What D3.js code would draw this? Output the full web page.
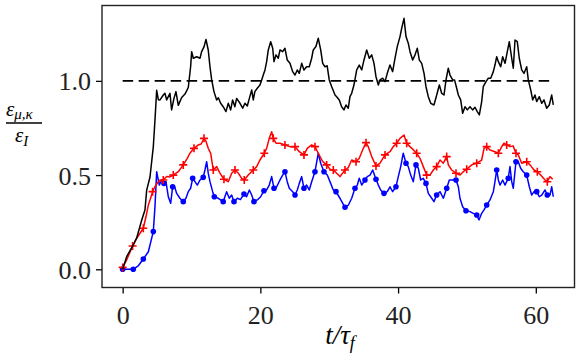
<!DOCTYPE html>
<html>
<head>
<meta charset="utf-8">
<script src="https://cdn.jsdelivr.net/npm/d3@7"></script>
<style>
  body { margin: 0; background: #fff; }
  text { font-family: "Liberation Serif", "DejaVu Serif", serif; }
</style>
</head>
<body>
<svg id="chart" width="581" height="363"></svg>
<script>
// eps_mu,kappa / eps_I against t / tau_f
var BLACK = [
  [0, 0], [0.58, 0.067], [1.54, 0.129], [2.03, 0.165], [2.76, 0.26], [3.24, 0.315],
  [3.49, 0.42], [3.97, 0.49], [4.45, 0.65], [4.69, 0.79], [4.94, 0.95], [5.18, 0.9],
  [5.43, 0.899], [5.9, 0.925], [6.14, 0.934], [6.39, 0.899], [6.87, 0.934], [7.11, 0.846],
  [7.45, 0.907], [7.74, 0.943], [8.08, 0.87], [8.57, 0.912], [9.05, 0.93], [9.53, 0.965],
  [9.87, 1.075], [10.02, 1.155], [10.26, 1.12], [10.75, 1.128], [11.23, 1.12], [11.47, 1.155],
  [11.81, 1.18], [12.1, 1.22], [12.43, 1.164], [12.68, 1.075], [12.93, 1.005], [13.26, 0.943],
  [13.65, 0.899], [13.9, 0.91], [14.23, 0.881], [14.6, 0.863], [15.0, 0.837], [15.34, 0.881],
  [15.69, 0.846], [15.97, 0.899], [16.3, 0.863], [16.55, 0.907], [17.04, 0.881], [17.43, 0.855],
  [17.76, 0.881], [18.1, 0.867], [18.4, 0.907], [18.74, 0.952], [18.97, 0.899], [19.2, 0.943],
  [19.55, 0.961], [19.94, 0.978], [20.19, 1.005], [20.42, 1.031], [20.67, 1.058], [20.91, 1.102],
  [21.15, 1.164], [21.5, 1.208], [21.79, 1.173], [21.98, 1.102], [22.27, 1.138], [22.6, 1.12],
  [22.85, 1.164], [23.24, 1.155], [23.57, 1.173], [23.9, 1.111], [24.3, 1.093], [24.69, 1.049],
  [25.03, 1.031], [25.36, 1.058], [25.65, 1.04], [26.0, 1.093], [26.33, 1.058], [26.72, 1.075],
  [27.1, 1.075], [27.45, 1.12], [27.68, 1.164], [28.07, 1.182], [28.41, 1.226], [28.76, 1.164],
  [29.05, 1.093], [29.38, 1.075], [29.7, 1.08], [30.0, 1.005], [30.36, 0.969], [30.84, 0.925],
  [31.08, 0.916], [31.46, 0.899], [31.8, 0.863], [32.14, 0.846], [32.43, 0.872], [32.77, 0.855],
  [33.01, 0.916], [33.26, 0.934], [33.59, 0.978], [33.99, 1.058], [34.36, 1.084], [34.72, 1.058],
  [35.05, 1.111], [35.44, 1.164], [35.82, 1.12], [36.17, 1.138], [36.5, 1.093], [36.79, 1.022],
  [37.13, 0.978], [37.37, 1.005], [37.76, 1.014], [38.1, 0.996], [38.43, 1.04], [38.82, 1.084],
  [39.21, 1.049], [39.55, 1.12], [39.88, 1.182], [40.28, 1.235], [40.52, 1.279], [40.86, 1.332],
  [41.15, 1.235], [41.48, 1.2], [41.73, 1.155], [42.12, 1.111], [42.46, 1.138], [42.79, 1.173],
  [43.08, 1.111], [43.43, 1.093], [43.77, 1.04], [44.05, 0.969], [44.39, 0.916], [44.74, 0.881],
  [45.21, 0.872], [45.61, 0.925], [45.99, 0.978], [46.33, 0.934], [46.67, 0.925], [46.96, 1.005],
  [47.29, 1.067], [47.54, 1.031], [47.93, 1.005], [48.2, 1.005], [48.51, 0.961], [48.75, 0.925],
  [49.09, 0.899], [49.38, 0.828], [49.72, 0.863], [50.05, 0.846], [50.44, 0.863], [50.83, 0.846],
  [51.17, 0.86], [51.5, 0.837], [51.8, 0.819], [52.14, 0.89], [52.37, 0.969], [52.77, 0.996],
  [53.1, 1.014], [53.45, 1.014], [53.83, 1.049], [54.07, 1.084], [54.32, 1.128], [54.56, 1.102],
  [54.9, 1.075], [55.19, 1.128], [55.53, 1.093], [55.77, 1.138], [56.15, 1.208], [56.5, 1.12],
  [56.73, 1.067], [56.98, 1.217], [57.31, 1.208], [57.6, 1.12], [57.95, 1.058], [58.29, 1.04],
  [58.68, 1.075], [58.91, 1.005], [59.26, 0.952], [59.55, 0.899], [59.88, 0.925], [60.13, 0.89],
  [60.51, 0.916], [60.86, 0.881], [61.19, 0.899], [61.58, 0.855], [61.96, 0.872], [62.31, 0.925],
  [62.54, 0.872]
];

var RED = [
  [0, 0.01], [0.58, 0.05], [1.45, 0.124], [2.03, 0.165], [2.5, 0.19], [3.0, 0.218],
  [3.39, 0.28], [3.73, 0.341], [4.0, 0.37], [4.35, 0.412], [4.69, 0.438], [5.18, 0.465],
  [5.9, 0.474], [6.39, 0.492], [6.87, 0.49], [7.35, 0.5], [8.08, 0.518], [8.8, 0.554],
  [9.38, 0.589], [9.77, 0.616], [10.36, 0.642], [10.98, 0.66], [11.4, 0.665], [11.81, 0.695],
  [12.1, 0.68], [12.43, 0.642], [12.78, 0.616], [13.16, 0.527], [13.65, 0.545], [14.13, 0.51],
  [14.71, 0.478], [15.34, 0.465], [15.83, 0.51], [16.31, 0.527], [16.8, 0.51], [17.28, 0.483],
  [17.66, 0.474], [18.24, 0.5], [18.97, 0.527], [19.46, 0.545], [19.94, 0.58], [20.57, 0.616],
  [20.91, 0.642], [21.29, 0.695], [21.64, 0.73], [21.87, 0.695], [22.27, 0.669], [22.85, 0.669],
  [23.57, 0.66], [24.3, 0.651], [25.03, 0.651], [25.65, 0.624], [26.33, 0.607], [26.81, 0.642],
  [27.45, 0.66], [27.93, 0.651], [28.41, 0.616], [29.05, 0.571], [29.63, 0.554], [30.21, 0.527],
  [30.59, 0.527], [31.08, 0.51], [31.56, 0.492], [32.29, 0.527], [32.77, 0.54], [33.26, 0.58],
  [33.89, 0.571], [34.36, 0.589], [34.95, 0.642], [35.34, 0.672], [35.67, 0.651], [36.17, 0.598],
  [36.79, 0.548], [37.37, 0.563], [38.1, 0.607], [38.82, 0.624], [39.3, 0.651], [39.79, 0.669],
  [40.28, 0.695], [40.86, 0.713], [41.25, 0.669], [41.73, 0.651], [42.2, 0.635], [42.7, 0.616],
  [43.18, 0.589], [43.66, 0.545], [44.15, 0.5], [44.63, 0.5], [45.11, 0.527], [45.6, 0.545],
  [46.09, 0.58], [46.57, 0.563], [47.06, 0.598], [47.3, 0.554], [47.78, 0.527], [48.41, 0.51],
  [48.99, 0.5], [49.47, 0.518], [49.96, 0.531], [50.69, 0.554], [51.42, 0.563], [52.14, 0.58],
  [52.48, 0.642], [52.87, 0.651], [53.35, 0.633], [54.07, 0.624], [54.56, 0.616], [55.05, 0.651],
  [55.38, 0.669], [55.77, 0.66], [56.25, 0.651], [56.7, 0.655], [57.12, 0.616], [57.46, 0.607],
  [57.95, 0.563], [58.68, 0.571], [59.16, 0.554], [59.74, 0.527], [60.22, 0.518], [60.71, 0.5],
  [61.34, 0.474], [61.67, 0.465], [62.06, 0.492], [62.45, 0.478]
];

var BLUE = [
  [0, 0], [1.54, 0.0], [2.3, 0.02], [3.0, 0.055], [3.73, 0.093], [4.45, 0.2],
  [4.69, 0.33], [4.94, 0.518], [5.32, 0.447], [5.66, 0.474], [6.0, 0.456], [6.29, 0.465],
  [6.63, 0.385], [6.97, 0.35], [7.26, 0.438], [7.55, 0.438], [7.84, 0.403], [8.32, 0.377],
  [8.8, 0.359], [9.19, 0.377], [9.53, 0.412], [9.87, 0.43], [10.17, 0.483], [10.5, 0.465],
  [10.84, 0.447], [11.23, 0.474], [11.7, 0.488], [11.95, 0.527], [12.2, 0.571], [12.43, 0.51],
  [12.68, 0.465], [13.07, 0.412], [13.31, 0.385], [13.89, 0.377], [14.6, 0.359], [15.1, 0.412],
  [15.49, 0.377], [15.83, 0.394], [16.17, 0.359], [16.65, 0.377], [17.1, 0.37], [17.62, 0.4],
  [18.0, 0.385], [18.4, 0.421], [18.74, 0.394], [19.07, 0.359], [19.55, 0.368], [20.04, 0.385],
  [20.52, 0.417], [20.91, 0.421], [21.29, 0.447], [21.64, 0.492], [21.98, 0.43], [22.37, 0.438],
  [22.85, 0.474], [23.24, 0.5], [23.57, 0.518], [23.9, 0.465], [24.2, 0.43], [24.69, 0.412],
  [25.03, 0.394], [25.36, 0.421], [25.65, 0.456], [26.0, 0.492], [26.33, 0.43], [26.72, 0.447],
  [27.1, 0.421], [27.45, 0.465], [27.93, 0.518], [28.41, 0.616], [28.76, 0.563], [29.24, 0.518],
  [29.72, 0.5], [30.21, 0.456], [30.59, 0.421], [30.98, 0.412], [31.56, 0.377], [32.29, 0.329],
  [32.77, 0.34], [33.26, 0.377], [33.74, 0.43], [34.08, 0.447], [34.36, 0.483], [34.72, 0.447],
  [35.19, 0.474], [35.53, 0.492], [35.92, 0.5], [36.31, 0.527], [36.79, 0.478], [37.13, 0.447],
  [37.47, 0.421], [37.95, 0.403], [38.43, 0.412], [38.82, 0.438], [39.21, 0.412], [39.69, 0.438],
  [40.03, 0.492], [40.38, 0.545], [40.75, 0.616], [41.15, 0.563], [41.48, 0.545], [41.83, 0.5],
  [42.21, 0.465], [42.6, 0.554], [42.94, 0.536], [43.28, 0.474], [43.66, 0.483], [44.05, 0.456],
  [44.39, 0.403], [44.88, 0.377], [45.21, 0.359], [45.6, 0.394], [46.09, 0.412], [46.57, 0.377],
  [47.06, 0.43], [47.44, 0.474], [47.93, 0.474], [48.41, 0.474], [48.75, 0.438], [48.99, 0.377],
  [49.38, 0.332], [49.86, 0.311], [50.44, 0.306], [50.92, 0.297], [51.42, 0.288], [51.75, 0.262],
  [52.14, 0.297], [52.48, 0.315], [52.87, 0.341], [53.35, 0.368], [53.83, 0.412], [54.07, 0.465],
  [54.32, 0.527], [54.56, 0.474], [54.8, 0.447], [55.19, 0.474], [55.53, 0.447], [56.0, 0.483],
  [56.25, 0.545], [56.5, 0.465], [56.73, 0.43], [57.12, 0.571], [57.46, 0.571], [57.8, 0.536],
  [58.18, 0.518], [58.68, 0.5], [59.06, 0.438], [59.4, 0.394], [59.74, 0.412], [60.13, 0.412],
  [60.51, 0.385], [60.86, 0.394], [61.34, 0.421], [61.67, 0.394], [62.06, 0.394], [62.31, 0.438],
  [62.54, 0.385]
];

var REFERENCE_LEVEL = 1.0;
var T_END = 62.5;
var MARK_STEP = 1.468;   // markers sit about every 1.47 t/tau_f
var X_TICKS = [0, 20, 40, 60];
var Y_TICKS = [0.0, 0.5, 1.0];


var svg = d3.select('#chart');

var x = d3.scaleLinear().domain([-3.0, 65.62]).range([102, 574.5]);
var y = d3.scaleLinear().domain([-0.0966, 1.40]).range([287.5, 5.5]);

var line = d3.line()
  .x(function(d) { return x(d[0]); })
  .y(function(d) { return y(d[1]); });

// picks the read point nearest to each marker time
var markerPoints = function(series) {
  var out = [];
  for (var k = 0; k * MARK_STEP <= T_END; k++) {
    var t = k * MARK_STEP;
    var best = series[0];
    series.forEach(function(p) {
      if (Math.abs(p[0] - t) < Math.abs(best[0] - t)) best = p;
    });
    out.push(best);
  }
  return out;
};

var plot = svg.append('g');

plot.append('line')
  .attr('x1', x(0)).attr('x2', x(T_END))
  .attr('y1', y(REFERENCE_LEVEL)).attr('y2', y(REFERENCE_LEVEL))
  .attr('stroke', '#000')
  .attr('stroke-width', 1.8)
  .attr('stroke-dasharray', '10.5,5.5');

plot.append('path').datum(BLUE)
  .attr('d', line).attr('fill', 'none')
  .attr('stroke', '#0000ff').attr('stroke-width', 1.5)
  .attr('stroke-linejoin', 'round');

plot.selectAll('.dot').data(markerPoints(BLUE))
  .enter().append('circle')
  .classed('dot', true)
  .attr('cx', function(d) { return x(d[0]); })
  .attr('cy', function(d) { return y(d[1]); })
  .attr('r', 2.8)
  .attr('fill', '#0000ff');

plot.append('path').datum(RED)
  .attr('d', line).attr('fill', 'none')
  .attr('stroke', '#ff0000').attr('stroke-width', 1.5)
  .attr('stroke-linejoin', 'round');

plot.selectAll('.plus').data(markerPoints(RED))
  .enter().append('path')
  .classed('plus', true)
  .attr('d', function(d) {
    var cx = x(d[0]), cy = y(d[1]), s = 4;
    return 'M' + (cx - s) + ',' + cy + 'H' + (cx + s) + 'M' + cx + ',' + (cy - s) + 'V' + (cy + s);
  })
  .attr('stroke', '#ff0000').attr('stroke-width', 1.6);

plot.append('path').datum(BLACK)
  .attr('d', line).attr('fill', 'none')
  .attr('stroke', '#000').attr('stroke-width', 1.5)
  .attr('stroke-linejoin', 'round');

// axes
var xAxis = svg.append('g')
  .attr('transform', 'translate(0,287.5)')
  .call(d3.axisBottom(x).tickValues(X_TICKS).tickSize(6).tickPadding(6)
    .tickFormat(d3.format('d')));

var yAxis = svg.append('g')
  .attr('transform', 'translate(102,0)')
  .call(d3.axisLeft(y).tickValues(Y_TICKS).tickSize(6).tickPadding(5)
    .tickFormat(d3.format('.1f')));

[xAxis, yAxis].forEach(function(ax) {
  ax.select('.domain').remove();
  ax.selectAll('.tick line').attr('stroke', '#000').attr('stroke-width', 1.3);
  ax.selectAll('.tick text')
    .attr('fill', '#222')
    .style('font-family', '"Liberation Serif", serif')
    .style('font-size', '26px');
});
xAxis.selectAll('.tick text').attr('dy', '0.95em');
yAxis.selectAll('.tick text').attr('dy', '0.35em');

svg.append('rect')
  .attr('x', 102).attr('y', 5.5)
  .attr('width', 574.5 - 102).attr('height', 287.5 - 5.5)
  .attr('fill', 'none').attr('stroke', '#222').attr('stroke-width', 1.4);

// x label: t / tau_f
var xl = svg.append('text')
  .attr('x', 340).attr('y', 344)
  .attr('text-anchor', 'middle')
  .style('font-size', '27px').style('font-style', 'italic');
xl.append('tspan').text('t/τ');
xl.append('tspan').attr('dy', 5).style('font-size', '18px').text('f');

// y label: eps_{mu,kappa} / eps_I
var yl = svg.append('g');
var num = yl.append('text').attr('x', 6).attr('y', 116)
  .style('font-size', '21px').style('font-style', 'italic');
num.append('tspan').text('ε');
num.append('tspan').attr('dy', 3).style('font-size', '15px').text('μ,κ');
yl.append('line')
  .attr('x1', 6).attr('x2', 42).attr('y1', 123).attr('y2', 123)
  .attr('stroke', '#000').attr('stroke-width', 1.3);
var den = yl.append('text').attr('x', 15).attr('y', 142)
  .style('font-size', '21px').style('font-style', 'italic');
den.append('tspan').text('ε');
den.append('tspan').attr('dy', 4).style('font-size', '15px').text('I');
</script>
</body>
</html>
